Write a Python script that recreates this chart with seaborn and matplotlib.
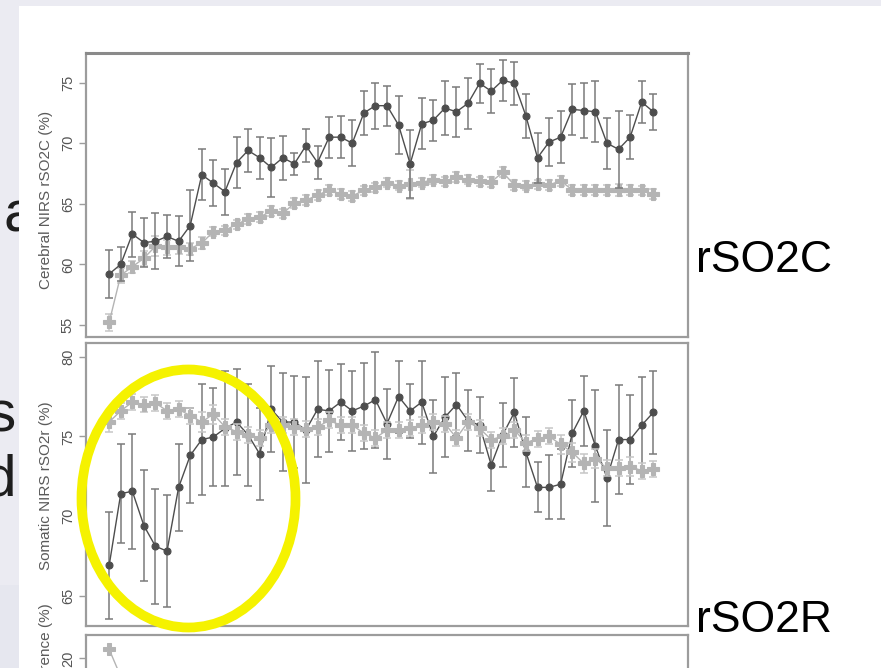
import numpy as np
import pandas as pd
import matplotlib
matplotlib.use("Agg")
import matplotlib.pyplot as plt
from matplotlib.patches import Rectangle, Ellipse
from matplotlib.transforms import Bbox
import seaborn as sns

# ---------------- data ----------------
hours = list(range(1, 49))

cerebral_dark = [59.2, 60.0, 62.5, 61.8, 61.9, 62.3, 61.9, 63.2, 67.4, 66.7,
                 66.0, 68.4, 69.4, 68.8, 68.0, 68.8, 68.3, 69.8, 68.4, 70.5,
                 70.5, 70.0, 72.5, 73.1, 73.1, 71.5, 68.3, 71.6, 71.9, 72.9,
                 72.6, 73.3, 74.95, 74.3, 75.2, 74.95, 72.25, 68.8, 70.1, 70.5,
                 72.8, 72.7, 72.6, 70.0, 69.5, 70.5, 73.4, 72.6]
cerebral_dark_err = [2.0, 1.4, 1.86, 2.0, 2.3, 1.8, 2.06, 2.9, 2.1, 1.9,
                     1.9, 2.1, 1.8, 1.75, 2.4, 1.8, 0.9, 1.35, 1.35, 1.7,
                     1.75, 1.9, 1.8, 1.9, 1.65, 2.4, 2.8, 2.1, 1.7, 2.2,
                     2.06, 2.1, 1.6, 1.8, 1.7, 1.76, 1.8, 2.06, 2.0, 2.16,
                     2.1, 2.3, 2.5, 2.1, 3.2, 1.8, 1.76, 1.5]
cerebral_light = [55.2, 59.1, 59.8, 60.5, 61.5, 61.4, 61.45, 61.3, 61.75, 62.7,
                  62.8, 63.3, 63.75, 63.9, 64.4, 64.2, 65.05, 65.3, 65.7, 66.15,
                  65.8, 65.65, 66.1, 66.35, 66.75, 66.5, 66.6, 66.75, 67.0, 66.85,
                  67.2, 67.0, 66.85, 66.8, 67.6, 66.55, 66.5, 66.6, 66.55, 66.9,
                  66.15, 66.15, 66.15, 66.15, 66.15, 66.15, 66.1, 65.8]
cerebral_light_err = [0.7, 0.6, 0.5, 0.6, 0.8, 0.6, 0.6, 0.5, 0.5, 0.4,
                      0.4, 0.4, 0.4, 0.4, 0.4, 0.4, 0.4, 0.4, 0.4, 0.4,
                      0.4, 0.4, 0.4, 0.4, 0.4, 0.4, 1.2, 0.4, 0.4, 0.4,
                      0.4, 0.4, 0.4, 0.4, 0.4, 0.4, 0.4, 0.4, 0.4, 0.4,
                      0.4, 0.4, 0.4, 0.4, 0.5, 0.4, 0.4, 0.4]

somatic_dark = [66.9, 71.4, 71.56, 69.4, 68.1, 67.8, 71.8, 73.8, 74.8, 74.96,
                75.5, 75.9, 75.1, 73.9, 76.7, 75.9, 75.9, 75.4, 76.7, 76.6,
                77.15, 76.6, 76.9, 77.3, 75.8, 77.5, 76.6, 77.15, 75.0, 76.2,
                77.0, 75.98, 75.7, 73.2, 75.1, 76.5, 74.0, 71.8, 71.8, 72.0,
                75.2, 76.6, 74.4, 72.4, 74.8, 74.8, 75.7, 76.5]
somatic_dark_err = [3.33, 3.1, 3.6, 3.5, 3.6, 3.5, 2.75, 3.0, 3.5, 3.1,
                    3.6, 3.3, 3.2, 2.9, 2.7, 3.07, 2.9, 3.3, 3.0, 2.55,
                    2.4, 2.5, 2.7, 3.0, 2.2, 2.26, 1.7, 2.6, 2.3, 2.5,
                    2.0, 1.9, 1.75, 1.6, 2.0, 2.15, 2.2, 1.57, 2.0, 2.2,
                    2.1, 2.2, 3.5, 3.0, 3.4, 2.8, 3.0, 2.6]
somatic_light = [75.9, 76.6, 77.15, 77.0, 77.1, 76.6, 76.7, 76.3, 75.9, 76.4,
                 75.6, 75.3, 75.1, 74.9, 75.7, 75.7, 75.6, 75.45, 75.6, 76.0,
                 75.7, 75.7, 75.2, 74.9, 75.4, 75.4, 75.5, 75.7, 75.9, 75.8,
                 74.9, 75.9, 75.5, 74.8, 75.0, 75.4, 74.6, 74.86, 75.0, 74.5,
                 74.0, 73.3, 73.6, 73.0, 73.0, 73.1, 72.85, 72.95]
somatic_light_err = [0.6, 0.5, 0.5, 0.5, 0.5, 0.5, 0.5, 0.5, 0.6, 0.6,
                     0.5, 0.5, 0.5, 0.5, 0.5, 0.5, 0.5, 0.5, 0.5, 0.5,
                     0.5, 0.5, 0.5, 0.5, 0.5, 0.5, 0.5, 0.5, 0.5, 0.5,
                     0.5, 0.5, 0.5, 0.5, 0.5, 0.5, 0.5, 0.5, 0.5, 0.6,
                     0.6, 0.6, 0.6, 0.5, 0.5, 0.6, 0.5, 0.5]

diff_hours = [1, 2]
diff_light = [20.7, 18.6]

cerebral_ticks = [55, 60, 65, 70, 75]
somatic_ticks = [65, 70, 75, 80]
diff_ticks = [20]

panel_labels = ["Cerebral NIRS rSO2C (%)", "Somatic NIRS rSO2r (%)", "Difference (%)"]
side_labels = ["rSO2C", "rSO2R"]
edge_letters = ["a", "s", "d"]

# ---------------- style ----------------
sns.set_style("white")
plt.rcParams["font.family"] = ["Liberation Sans", "DejaVu Sans"]

W, H = 881, 668
fig = plt.figure(figsize=(W / 100, H / 100), dpi=100)
fig.patch.set_facecolor("#ebebf2")

def fx(px):
    return px / W

def fy(py):
    return 1 - py / H

# white slide image region
fig.patches.append(Rectangle((fx(19), 0), 1 - fx(19), fy(6), transform=fig.transFigure,
                             facecolor="white", edgecolor="none", zorder=-5))
fig.patches.append(Rectangle((0, 0), fx(19), fy(585), transform=fig.transFigure,
                             facecolor="#e6e7ef", edgecolor="none", zorder=-5))

DARK = "#4d4d4d"
DARK_ERR = "#7a7a7a"
LIGHT = "#b4b4b4"
LIGHT_ERR = "#c6c6c6"
SPINE = "#9c9c9c"

left, right = 86, 688
ax1 = fig.add_axes([fx(left), fy(337), fx(right - left), (337 - 53) / H])
ax2 = fig.add_axes([fx(left), fy(626), fx(right - left), (626 - 343) / H])
ax3 = fig.add_axes([fx(left), fy(918), fx(right - left), (918 - 635) / H])


def draw_series(ax, x, y, err, color, ecolor, marker, ms, lw, z):
    ax.errorbar(x, y, yerr=err, fmt="none", ecolor=ecolor, elinewidth=1.1,
                capsize=2.8, capthick=1.1, zorder=z)
    sns.lineplot(x=x, y=y, ax=ax, color=color, linewidth=lw, marker=marker,
                 markersize=ms, markeredgecolor=color, markeredgewidth=0.8,
                 zorder=z + 1, legend=False)


draw_series(ax1, hours, cerebral_light, cerebral_light_err, LIGHT, LIGHT_ERR, "P", 8, 1.0, 2)
draw_series(ax1, hours, cerebral_dark, cerebral_dark_err, DARK, DARK_ERR, "o", 5, 1.0, 4)
draw_series(ax2, hours, somatic_light, somatic_light_err, LIGHT, LIGHT_ERR, "P", 8, 1.0, 4)
draw_series(ax2, hours, somatic_dark, somatic_dark_err, DARK, DARK_ERR, "o", 5, 1.0, 2)
sns.lineplot(x=diff_hours, y=diff_light, ax=ax3, color=LIGHT, linewidth=1.0, marker="P",
             markersize=8, markeredgecolor=LIGHT, legend=False)

ax1.set_ylim(54.0, 77.45)
ax2.set_ylim(63.1, 80.86)
ax3.set_ylim(0, 21.8)
ax1.set_yticks(cerebral_ticks)
ax2.set_yticks(somatic_ticks)
ax3.set_yticks(diff_ticks)

for ax in (ax1, ax2, ax3):
    ax.set_xlim(-1, 51)
    ax.set_xticks([])
    ax.set_xlabel("")
    ax.set_ylabel("")
    ax.set_facecolor("white")
    for s in ax.spines.values():
        s.set_visible(True)
        s.set_color(SPINE)
        s.set_linewidth(1.6)
    ax.tick_params(axis="y", which="both", left=True, length=5, width=1.0, color=SPINE,
                   labelsize=10.5, labelcolor="#555555", labelrotation=90, pad=3)
    for lab in ax.get_yticklabels():
        lab.set_verticalalignment("center")
ax1.spines["top"].set_color("#8a8a8a")
ax1.spines["top"].set_linewidth(2.2)

# axis titles (rotated, R style)
fig.text(fx(46), fy(200), panel_labels[0], rotation=90, ha="center", va="center",
         fontsize=11, color="#5a5a5a")
fig.text(fx(46), fy(486), panel_labels[1], rotation=90, ha="center", va="center",
         fontsize=11, color="#5a5a5a")
fig.text(fx(46), fy(603), panel_labels[2], rotation=90, ha="center", va="top",
         fontsize=11, color="#5a5a5a")

# big side labels on the slide
fig.text(fx(764), fy(260), side_labels[0], ha="center", va="center", fontsize=32,
         color="black")
fig.text(fx(764), fy(621), side_labels[1], ha="center", va="center", fontsize=32,
         color="black")

# clipped slide text letters behind the picture
clip = Bbox.from_extents(0, 0, 19, H)
letter_pos = [(4, 231, "left"), (16, 432, "right"), (16, 495, "right")]
for letter, (px, py, ha) in zip(edge_letters, letter_pos):
    t = fig.text(fx(px), fy(py), letter, ha=ha, va="baseline", fontsize=42,
                 color="#1e1e1e")
    t.set_clip_box(clip)
    t.set_clip_on(True)

# yellow highlight ellipse
fig.patches.append(Ellipse((fx(188.5), fy(498.5)), fx(214), 258 / H,
                           transform=fig.transFigure, fill=False,
                           edgecolor="#f5f200", linewidth=7.0, zorder=10))

fig.savefig("out.png", dpi=100, facecolor=fig.get_facecolor())
